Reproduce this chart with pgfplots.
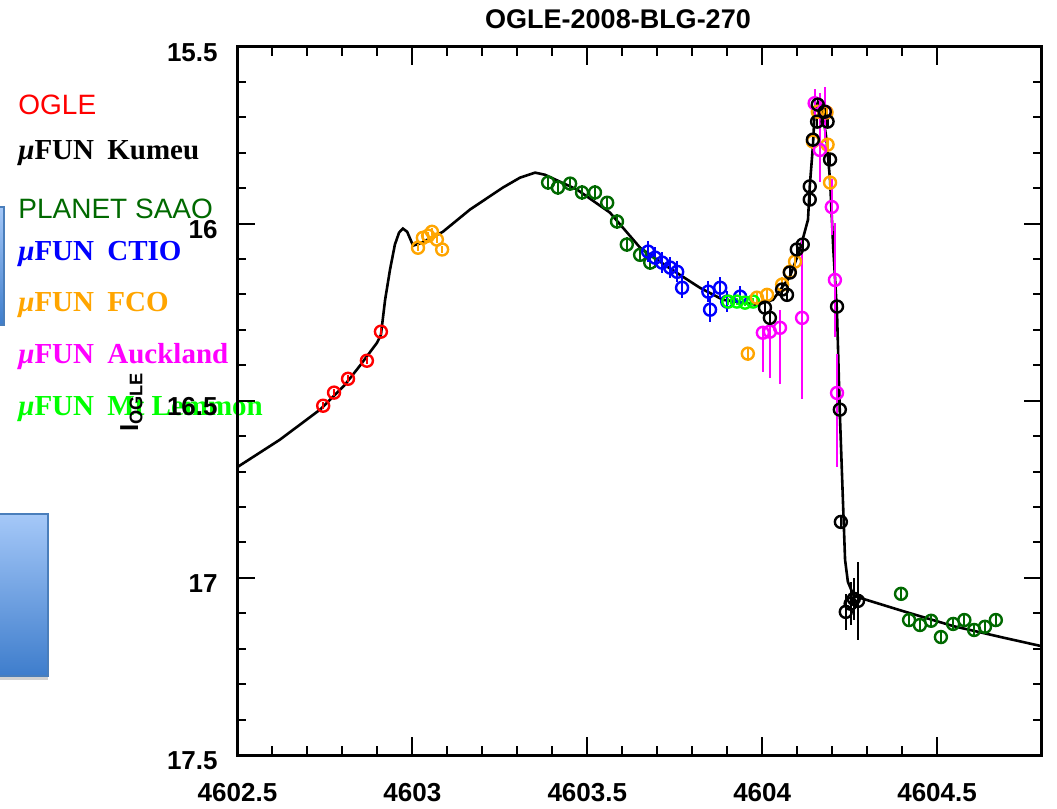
\documentclass[border=0pt]{standalone}
\usepackage{pgfplots}
\pgfplotsset{compat=1.18}
\usepackage{fontspec}
\setmainfont{Liberation Sans}
\newfontfamily\legserif{Liberation Serif}
\definecolor{dgreen}{RGB}{0,105,0}
\definecolor{fcoorange}{RGB}{255,165,0}
\definecolor{lgreen}{RGB}{0,255,0}
\definecolor{mag}{RGB}{255,0,255}
\definecolor{boxtop}{RGB}{165,200,248}
\definecolor{boxbot}{RGB}{62,125,204}
\definecolor{boxline}{RGB}{74,126,187}
\newcommand\muf[2]{\node[anchor=base west, text=#1, inner sep=0pt, font=\fontsize{14.5}{15}\legserif\bfseries] at (18,#2) {\itshape μ\upshape FUN};}
\newcommand\mus[3]{\node[anchor=base west, text=#1, inner sep=0pt, font=\fontsize{14.5}{15}\legserif\bfseries] at (107,#2) {#3};}
\pgfplotsset{
  pt/.style={only marks, mark=o, mark size=3pt, line width=1.2pt, mark options={solid},
    error bars/y dir=both, error bars/y explicit, error bars/error mark=none,
    error bars/error bar style={line width=1.1pt}},
}
\begin{document}
\begin{tikzpicture}
\path[use as bounding box] (0,0) rectangle (528.5pt,-404.5pt);
\begin{scope}[x=0.5pt,y=-0.5pt]
  % slide decorations
  \shade[top color=boxtop, bottom color=boxbot] (-2,207) rectangle (4,325);
  \draw[boxline, line width=0.6pt] (-2,207) rectangle (4,325);
  \fill[gray!35] (0,676) rectangle (48,680);
  \shade[top color=boxtop, bottom color=boxbot] (-2,514) rectangle (48,676);
  \draw[boxline, line width=0.6pt] (-2,514) rectangle (48,676);
  % legend texts
  \node[anchor=base west, text=red, inner sep=0pt, font=\fontsize{14}{15}\selectfont] at (18,114) {OGLE};
  \muf{black}{159}\mus{black}{159}{Kumeu}
  \node[anchor=base west, text=dgreen, inner sep=0pt, font=\fontsize{14}{15}\selectfont] at (18,218) {PLANET SAAO};
  \muf{blue}{260}\mus{blue}{260}{CTIO}
  \muf{fcoorange}{311}\mus{fcoorange}{311}{FCO}
  \muf{mag}{363}\mus{mag}{363}{Auckland}
  \muf{lgreen}{415}\mus{lgreen}{415}{Mt Lemmon}
  % y label
  \node[rotate=90, anchor=base, inner sep=0pt, font=\fontsize{13}{14}\selectfont\bfseries] at (138,402) {I\textsubscript{OGLE}};
  % title
  \node[font=\fontsize{13.5}{14}\selectfont\bfseries, inner sep=0pt] at (618,19) {OGLE-2008-BLG-270};
\end{scope}
\begin{axis}[
  at={(118.75pt,-377.5pt)}, anchor=south west,
  scale only axis, width=402.25pt, height=354.25pt,
  xmin=4602.5, xmax=4604.8, ymin=15.5, ymax=17.5, y dir=reverse,
  xtick={4602.5,4603,4603.5,4604,4604.5}, minor x tick num=4,
  ytick={15.5,16,16.5,17,17.5}, minor y tick num=4,
  tick align=inside, major tick length=9pt, minor tick length=4.5pt,
  every tick/.style={black, line width=1pt},
  axis line style={line width=1.5pt},
  tick label style={font=\fontsize{13}{13}\selectfont\bfseries},
  /pgf/number format/assume math mode=true,
  scaled x ticks=false, scaled y ticks=false,
  xticklabel style={/pgf/number format/1000 sep={}},
  xticklabel shift=10.5pt, yticklabel shift=6.4pt,
  yticklabel style={yshift=-3pt},
]
% model
\addplot[black, line width=1.3pt] coordinates {
(4602.5,16.687) (4602.621,16.610) (4602.736,16.525) (4602.807,16.455)
(4602.850,16.401) (4602.899,16.336) (4602.910,16.314) (4602.922,16.215)
(4602.936,16.130) (4602.950,16.059) (4602.962,16.025) (4602.973,16.014)
(4602.985,16.023) (4603.002,16.062) (4603.022,16.056) (4603.087,16.023)
(4603.165,15.960) (4603.259,15.898) (4603.308,15.870) (4603.351,15.856)
(4603.379,15.862) (4603.471,15.904) (4603.565,15.969) (4603.651,16.068)
(4603.728,16.121) (4603.822,16.181) (4603.888,16.215) (4603.985,16.229)
(4604.031,16.215) (4604.079,16.150) (4604.108,16.073) (4604.131,15.989)
(4604.136,15.895) (4604.145,15.782) (4604.150,15.686) (4604.159,15.658)
(4604.170,15.664) (4604.184,15.763) (4604.194,15.876) (4604.203,16.065)
(4604.214,16.251) (4604.222,16.534) (4604.231,16.785) (4604.237,16.949)
(4604.245,17.011) (4604.262,17.051) (4604.400,17.093) (4604.546,17.136)
(4604.691,17.169) (4604.800,17.193)
};
% OGLE
\addplot[pt, red] coordinates {
(4602.745,16.514) +- (0,0.01) (4602.776,16.477) +- (0,0.01) (4602.816,16.438) +- (0,0.01)
(4602.870,16.387) +- (0,0.01) (4602.910,16.305) +- (0,0.01)
};
% PLANET SAAO
\addplot[pt, dgreen] coordinates {
(4603.388,15.884) +- (0,0.02) (4603.416,15.898) +- (0,0.02) (4603.451,15.887) +- (0,0.02)
(4603.485,15.912) +- (0,0.02) (4603.522,15.912) +- (0,0.02) (4603.557,15.941) +- (0,0.02)
(4603.585,15.994) +- (0,0.02) (4603.613,16.059) +- (0,0.02) (4603.651,16.088) +- (0,0.02)
(4603.680,16.110) +- (0,0.02)
(4604.397,17.045) +- (0,0.02) (4604.420,17.119) +- (0,0.02) (4604.451,17.133) +- (0,0.02)
(4604.483,17.121) +- (0,0.02) (4604.511,17.167) +- (0,0.02) (4604.546,17.130) +- (0,0.02)
(4604.578,17.119) +- (0,0.02) (4604.606,17.147) +- (0,0.02) (4604.637,17.138) +- (0,0.02)
(4604.668,17.119) +- (0,0.02)
};
% CTIO
\addplot[pt, blue] coordinates {
(4603.674,16.079) +- (0,0.03) (4603.694,16.096) +- (0,0.03) (4603.714,16.110) +- (0,0.03)
(4603.737,16.124) +- (0,0.03) (4603.757,16.136) +- (0,0.03) (4603.771,16.181) +- (0,0.03)
(4603.846,16.192) +- (0,0.03) (4603.851,16.243) +- (0,0.035) (4603.880,16.181) +- (0,0.03)
(4603.900,16.220) +- (0,0.03) (4603.937,16.206) +- (0,0.03)
};
% Mt Lemmon
\addplot[pt, lgreen] coordinates {
(4603.903,16.220) +- (0,0.01) (4603.928,16.220) +- (0,0.01)
(4603.951,16.223) +- (0,0.01) (4603.974,16.220) +- (0,0.01)
};
% FCO
\addplot[pt, fcoorange] coordinates {
(4603.016,16.068) +- (0,0.01) (4603.030,16.040) +- (0,0.01) (4603.045,16.034) +- (0,0.01)
(4603.056,16.023) +- (0,0.01) (4603.070,16.045) +- (0,0.01) (4603.085,16.073) +- (0,0.01)
(4603.959,16.367) +- (0,0.02)
(4603.985,16.209) +- (0,0.02) (4604.014,16.201) +- (0,0.02) (4604.057,16.172) +- (0,0.02)
(4604.079,16.136) +- (0,0.02) (4604.094,16.107) +- (0,0.02)
(4604.145,15.768) +- (0,0.02) (4604.159,15.684) +- (0,0.02) (4604.184,15.686) +- (0,0.02)
(4604.187,15.777) +- (0,0.02) (4604.194,15.884) +- (0,0.02)
};
% Auckland
\addplot[pt, mag] coordinates {
(4604.002,16.308) += (0,0.11) -= (0,0.02)
(4604.022,16.305) += (0,0.13) -= (0,0.03)
(4604.051,16.294) += (0,0.16) -= (0,0.05)
(4604.114,16.266) += (0,0.23) -= (0,0.22)
(4604.150,15.660) += (0,0.04) -= (0,0.04)
(4604.165,15.792) += (0,0.09) -= (0,0.16)
(4604.179,15.684) += (0,0.086) -= (0,0.07)
(4604.199,15.953) += (0,0.08) -= (0,0.08)
(4604.208,16.159) += (0,0.16) -= (0,0.16)
(4604.214,16.478) += (0,0.21) -= (0,0.11)
};
% Kumeu
\addplot[pt, black] coordinates {
(4604.008,16.237) +- (0,0.015) (4604.022,16.266) +- (0,0.015) (4604.057,16.186) +- (0,0.015)
(4604.071,16.201) +- (0,0.015) (4604.079,16.138) +- (0,0.015) (4604.099,16.073) +- (0,0.015)
(4604.116,16.059) +- (0,0.015) (4604.136,15.932) +- (0,0.015) (4604.136,15.895) +- (0,0.015)
(4604.145,15.763) +- (0,0.015) (4604.157,15.712) +- (0,0.015) (4604.159,15.664) +- (0,0.015)
(4604.179,15.684) +- (0,0.015) (4604.187,15.712) +- (0,0.015) (4604.194,15.819) +- (0,0.015)
(4604.214,16.234) +- (0,0.015) (4604.222,16.525) +- (0,0.015) (4604.225,16.842) +- (0,0.02)
(4604.239,17.096) +- (0,0.05) (4604.253,17.073) +- (0,0.06) (4604.262,17.059) +- (0,0.06)
(4604.274,17.065) +- (0,0.11)
};
\end{axis}
\end{tikzpicture}
\end{document}
